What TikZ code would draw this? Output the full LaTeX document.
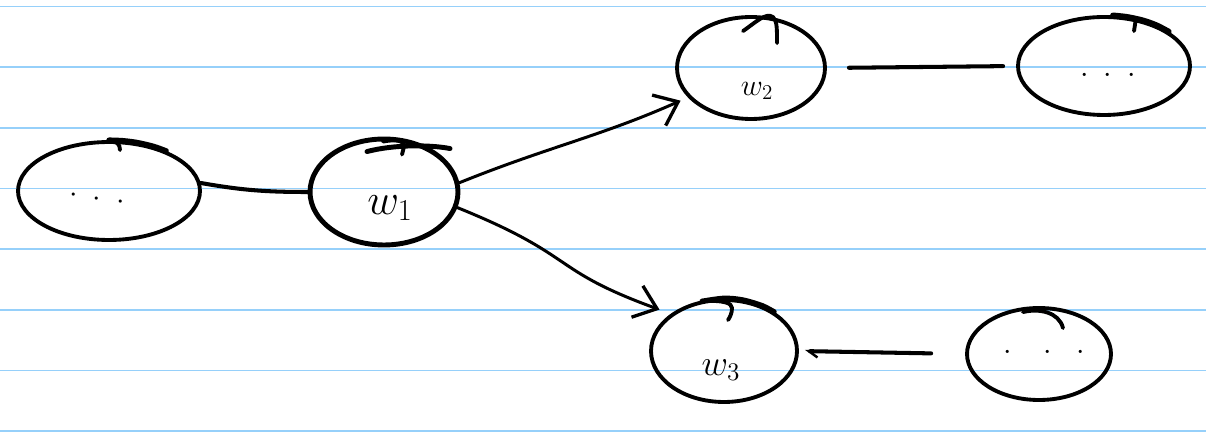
\documentclass[tikz,border=0pt]{standalone}
\usetikzlibrary{shapes.geometric,arrows.meta}
\definecolor{ruleblue}{RGB}{150,208,250}
\tikzset{
  pen/.style={line width=2.2pt, line cap=round, line join=round},
  blob/.style={ellipse, draw, pen, inner sep=0pt},
  link/.style={line width=2.3pt, line cap=round},
  arr/.style={line width=1.7pt, line cap=round,
    -{Straight Barb[length=12pt,width=19pt,line width=1.9pt]}},
  wlabel/.style={inner sep=0pt},
  dots/.style={inner sep=0pt, font=\fontsize{18}{18}\selectfont}
}
\begin{document}
\begin{tikzpicture}[x=0.02cm, y=-0.02cm]
  % paper
  \useasboundingbox (0,0) rectangle (1206,435);
  \fill[white] (0,0) rectangle (1206,435);
  \foreach \yy in {6.5,67,128,188.5,249,310,370.5,431}
    \draw[ruleblue, line width=1pt] (0,\yy) -- (1206,\yy);

  % states
  \node[blob, minimum width=3.64cm, minimum height=1.96cm] (l)  at (109,191) {};
  \node[blob, line width=2.8pt, minimum width=2.96cm, minimum height=2.12cm] (w1) at (384,192) {};
  \node[blob, minimum width=2.96cm, minimum height=2.04cm] (w2) at (751,68) {};
  \node[blob, minimum width=3.44cm, minimum height=1.96cm] (tr) at (1104,66) {};
  \node[blob, minimum width=2.92cm, minimum height=2.04cm] (w3) at (724,351) {};
  \node[blob, minimum width=2.88cm, minimum height=1.84cm] (br) at (1039,354) {};

  % pen overlaps where each outline was closed
  \draw[pen, line width=3pt] plot[smooth] coordinates {(l.90) (l.75) (l.60) (l.45) (l.35)};
  \draw[pen] ([shift={(0,1)}]l.north) .. controls ([shift={(8,1)}]l.north)
    and ([shift={(11,4)}]l.north) .. ([shift={(11,10)}]l.north);
  \draw[pen, line width=2.8pt] ([shift={(-17,15)}]w1.north) .. controls ([shift={(10,8)}]w1.north)
    and ([shift={(45,8)}]w1.north) .. ([shift={(66,12)}]w1.north);
  \draw[pen] ([shift={(-1,5)}]w1.north) .. controls ([shift={(10,3)}]w1.north)
    and ([shift={(20,3)}]w1.north) .. ([shift={(20,10)}]w1.north) -- ([shift={(18,18)}]w1.north);
  \draw[pen] ([shift={(-8,16)}]w2.north) .. controls ([shift={(5,7)}]w2.north)
    and ([shift={(15,-3)}]w2.north) .. ([shift={(22,2)}]w2.north)
    .. controls ([shift={(26,6)}]w2.north) and ([shift={(26,12)}]w2.north) .. ([shift={(26,28)}]w2.north);
  \draw[pen] ([shift={(32,3)}]tr.north) -- ([shift={(30,16)}]tr.north);
  \draw[pen, line width=3.2pt] plot[smooth] coordinates {(tr.80) (tr.65) (tr.50) (tr.38) (tr.28)};
  \draw[pen] ([shift={(-22,3)}]w3.north) .. controls ([shift={(0,2)}]w3.north)
    and ([shift={(8,5)}]w3.north) .. ([shift={(8,10)}]w3.north)
    .. controls ([shift={(8,15)}]w3.north) and ([shift={(6,19)}]w3.north) .. ([shift={(4,22)}]w3.north);
  \draw[pen, line width=2.8pt] plot[smooth] coordinates {([shift={(-22,3)}]w3.north) (w3.90) (w3.70) (w3.50) (w3.38)};
  \draw[pen] ([shift={(-16,6)}]br.north) .. controls ([shift={(0,2)}]br.north)
    and ([shift={(20,6)}]br.north) .. ([shift={(24,22)}]br.north);

  % labels
  \node[wlabel, font=\fontsize{27}{27}\selectfont] (t1) at (390,208) {$w_1$};
  \node[wlabel, font=\fontsize{17}{17}\selectfont] (t2) at (757,91) {$w_2$};
  \node[wlabel, font=\fontsize{21}{21}\selectfont] (t3) at (721,370) {$w_3$};
  \node[dots, rotate=-8] (d1) at (97,199) {$\cdot\;\cdot\;\cdot$};
  \node[dots] (d2) at (1108,76) {$\cdot\;\cdot\;\cdot$};
  \node[dots] (d3) at (1044,353) {$\cdot\;\;\;\cdot\;\;\cdot$};

  % connectors
  \draw[link] (l.5) to[out=-10,in=180] (w1.west);
  \draw[arr, shorten >=0.16cm] (w1.7) to[out=22,in=204] (w2.205);
  \draw[arr, shorten >=0.24cm] (w1.-12) to[out=-22,in=160,looseness=1.4] (w3.145);
  \draw[link, shorten <=0.44cm, shorten >=0.26cm] (w2.east) -- (tr.west);
  \draw[link, shorten <=0.68cm, shorten >=0.12cm,
    -{Straight Barb[left,length=5pt,width=7pt,line width=1.4pt]}] (br.west) -- (w3.east);
\end{tikzpicture}
\end{document}
